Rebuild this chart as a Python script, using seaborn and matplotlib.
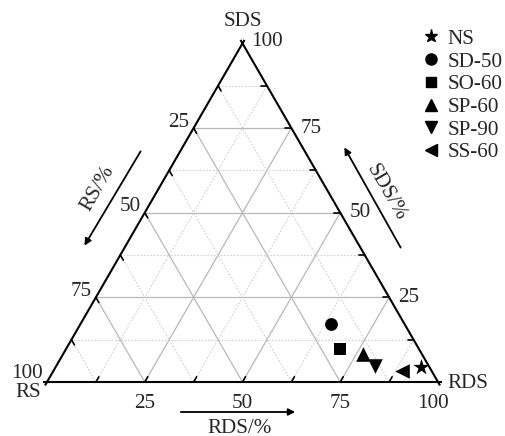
import numpy as np
import pandas as pd
import matplotlib
matplotlib.use("Agg")
import matplotlib.pyplot as plt
import seaborn as sns
from matplotlib.lines import Line2D

# ---- data (fractions in %) ----
samples = ["NS", "SD-50", "SO-60", "SP-60", "SP-90", "SS-60"]
rds = [93.3, 64.0, 70.1, 76.7, 81.5, 89.1]
sds = [4.5, 17.2, 9.7, 8.3, 4.7, 3.3]
rs = [100 - a - b for a, b in zip(rds, sds)]
tick_values = [25, 50, 75, 100]
marker_map = {"NS": "*", "SD-50": "o", "SO-60": "s", "SP-60": "^", "SP-90": "v", "SS-60": "<"}

sns.set_theme(style="white")
plt.rcParams["font.family"] = ["Liberation Serif", "DejaVu Serif"]

FS = 15.2
PX = 1 / 391.0  # one pixel in data units


def tern(rs_, rds_, sds_):
    t = np.asarray(rs_, float) + np.asarray(rds_, float) + np.asarray(sds_, float)
    b = np.asarray(rds_, float) / t
    c = np.asarray(sds_, float) / t
    return b + c / 2.0, c * np.sqrt(3) / 2.0


df = pd.DataFrame({"sample": samples, "RS": rs, "RDS": rds, "SDS": sds})
df["x"], df["y"] = tern(df["RS"], df["RDS"], df["SDS"])

fig = plt.figure(figsize=(5.05, 4.36), dpi=100)
ax = fig.add_axes([0, 0, 1, 1])
ax.set_xlim(-47 * PX, (505 - 47) * PX)
ax.set_ylim(-(436 - 382) * PX, 382 * PX)
ax.set_axis_off()

# ---- grid ----
for k in range(1, 8):
    v = k * 12.5
    major = (k % 2 == 0)
    kw = dict(color="#b8b8b8", lw=0.9, ls="-") if major else dict(color="#d0d0d0", lw=0.8, ls=(0, (1.5, 1.5)))
    x, y = tern([100 - v, 0], [0, 100 - v], [v, v]); ax.plot(x, y, zorder=1, **kw)
    x, y = tern([100 - v, 0], [v, v], [0, 100 - v]); ax.plot(x, y, zorder=1, **kw)
    x, y = tern([v, v], [100 - v, 0], [0, 100 - v]); ax.plot(x, y, zorder=1, **kw)

# ---- triangle edges (slightly overshooting, Origin style) ----
V = {"RS": np.array([0.0, 0.0]), "RDS": np.array([1.0, 0.0]), "SDS": np.array([0.5, np.sqrt(3) / 2])}
for a, b in [("RS", "RDS"), ("RDS", "SDS"), ("SDS", "RS")]:
    p, q = V[a], V[b]
    d = (q - p) / np.linalg.norm(q - p)
    p2, q2 = p - d * 4 * PX, q + d * 4 * PX
    ax.plot([p2[0], q2[0]], [p2[1], q2[1]], color="black", lw=1.5, zorder=3, solid_capstyle="butt")

# ---- ticks ----
TL = 6 * PX
for k in range(1, 8):
    v = k * 12.5
    x0, y0 = tern(100 - v, v, 0)
    ax.plot([x0, x0 + TL * 0.5], [y0, y0 + TL * np.sqrt(3) / 2], color="black", lw=1.2, zorder=3)
    x0, y0 = tern(0, 100 - v, v)
    ax.plot([x0, x0 - TL], [y0, y0], color="black", lw=1.2, zorder=3)
    x0, y0 = tern(v, 0, 100 - v)
    ax.plot([x0, x0 + TL * 0.5], [y0, y0 - TL * np.sqrt(3) / 2], color="black", lw=1.2, zorder=3)

# ---- tick labels ----
for v in tick_values:
    x0, y0 = tern(100 - v, v, 0)
    dx = -5 * PX if v == 100 else 0
    ax.text(x0 + dx, y0 - 21 * PX, str(v), ha="center", va="center", fontsize=FS)
    x0, y0 = tern(0, 100 - v, v)
    ax.text(x0 + 9 * PX, y0 + (2 if v == 100 else 0) * PX, str(v), ha="left", va="center", fontsize=FS)
    x0, y0 = tern(v, 0, 100 - v)
    ax.text(x0 - 4 * PX, y0 + (9 if v == 100 else 6) * PX, str(v), ha="right", va="center", fontsize=FS)

# ---- vertex labels ----
ax.text(0.5, (382 - 22) * PX, "SDS", ha="center", va="center", fontsize=FS)
ax.text(-19 * PX, -10 * PX, "RS", ha="center", va="center", fontsize=FS)
ax.text(1 + 30 * PX, -1 * PX, "RDS", ha="center", va="center", fontsize=FS)


def pix(px, py):
    return (px - 47) * PX, (382 - py) * PX


# ---- axis titles with arrows ----
ax.text(*pix(240, 428), "RDS/%", ha="center", va="center", fontsize=FS)
ax.annotate("", xy=pix(298, 412), xytext=pix(178, 412),
            arrowprops=dict(arrowstyle="-|>", color="black", lw=1.3, mutation_scale=10))
ax.text(*pix(98, 188), "RS/%", ha="center", va="center", fontsize=FS, rotation=60)
ax.annotate("", xy=pix(83, 248), xytext=pix(142, 149),
            arrowprops=dict(arrowstyle="-|>", color="black", lw=1.3, mutation_scale=10))
ax.text(*pix(386, 193), "SDS/%", ha="center", va="center", fontsize=FS, rotation=-60)
ax.annotate("", xy=pix(343, 145), xytext=pix(402, 250),
            arrowprops=dict(arrowstyle="-|>", color="black", lw=1.3, mutation_scale=10))

# ---- data points ----
sizes = {"NS": 150, "SD-50": 85, "SO-60": 70, "SP-60": 110, "SP-90": 110, "SS-60": 110}
for s in samples:
    sub = df[df["sample"] == s]
    sns.scatterplot(data=sub, x="x", y="y", marker=marker_map[s], s=sizes[s], color="black",
                    edgecolor="black", linewidth=0, ax=ax, zorder=5, legend=False)

# ---- legend ----
leg_ms = {"NS": 9.5, "SD-50": 8, "SO-60": 7, "SP-60": 8.5, "SP-90": 8.5, "SS-60": 8.5}
handles = [Line2D([], [], ls="none", marker=marker_map[s], color="black", markersize=leg_ms[s])
           for s in samples]
ax.legend(handles, samples, loc="upper left", bbox_to_anchor=(420 / 505, 1 - 29 / 436),
          bbox_transform=fig.transFigure, frameon=False, fontsize=FS,
          handlelength=1.0, handletextpad=0.3, labelspacing=0.14, borderpad=0, borderaxespad=0)

fig.savefig("out.png", dpi=100)
